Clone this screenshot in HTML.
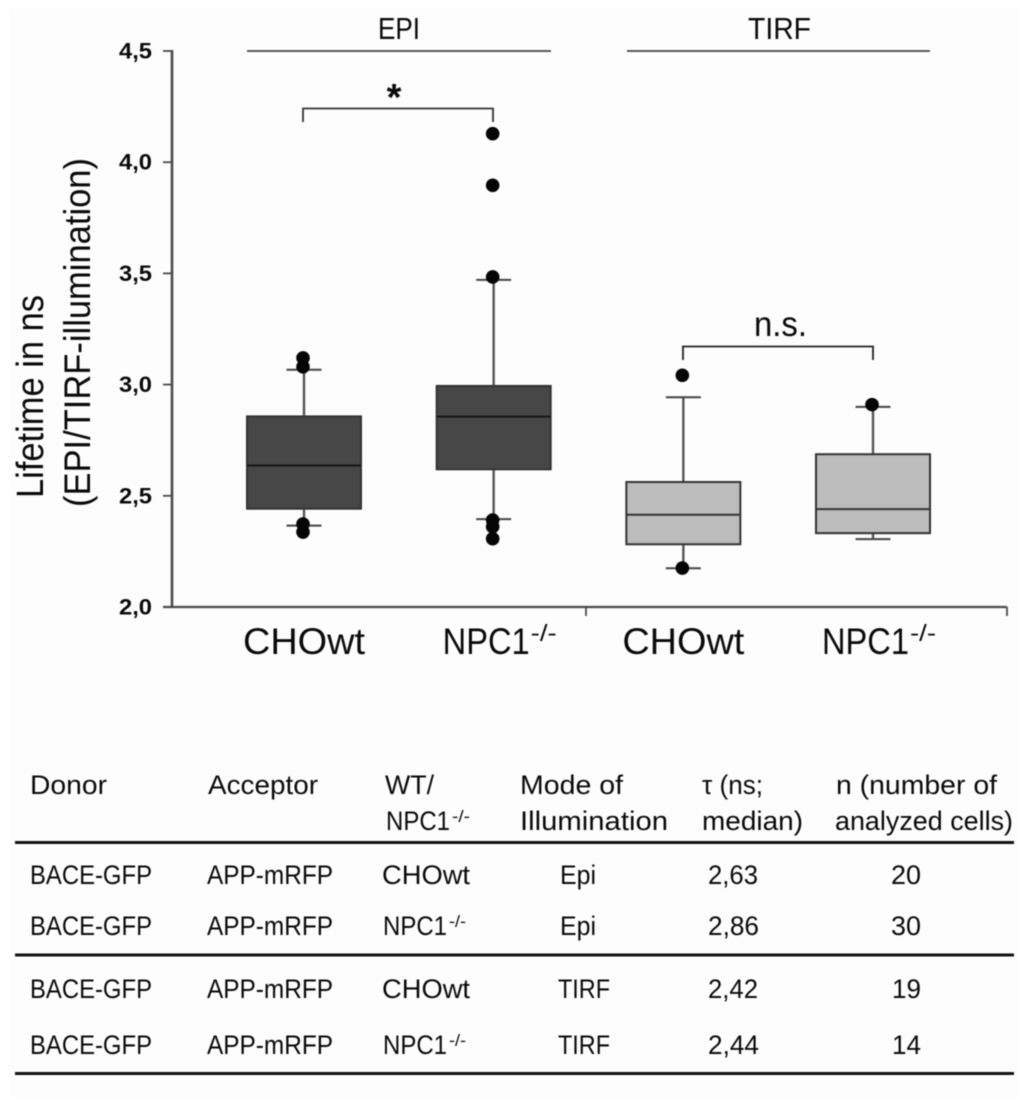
<!DOCTYPE html>
<html lang="en">
<head>
<meta charset="utf-8">
<title>Lifetime in ns chart and table</title>
<style>
html,body{margin:0;padding:0;background:#fff;width:1024px;height:1107px;overflow:hidden}
svg{display:block;filter:blur(0.4px)}
text{font-family:"Liberation Sans",sans-serif;fill:#0a0a0a}
.cell{font-size:27px}
</style>
</head>
<body>
<svg id="figure" xmlns="http://www.w3.org/2000/svg" width="1024" height="1107" viewBox="0 0 1024 1107">
  <rect x="0" y="0" width="1024" height="1107" fill="#ffffff"/>
  <rect x="10" y="8" width="1008" height="1090" fill="#fdfdfd"/>

  <g id="chart"></g>

  <g>
    <text transform="translate(43,498) rotate(-90)" font-size="38" textLength="203" lengthAdjust="spacingAndGlyphs">Lifetime in ns</text>
    <text transform="translate(90,507) rotate(-90)" font-size="37" textLength="349" lengthAdjust="spacingAndGlyphs">(EPI/TIRF-illumination)</text>
  </g>

  <g>
    <text x="378" y="39" font-size="31" textLength="42" lengthAdjust="spacingAndGlyphs">EPI</text>
    <line x1="247" y1="51" x2="551" y2="51" stroke="#444" stroke-width="1.8"/>
    <text x="748" y="39" font-size="31" textLength="63" lengthAdjust="spacingAndGlyphs">TIRF</text>
    <line x1="627" y1="51" x2="930" y2="51" stroke="#444" stroke-width="1.8"/>
  </g>

  <g>
    <path d="M303 122V108.500H493V122" fill="none" stroke="#333" stroke-width="1.8"/>
    <text x="394" y="110" font-size="38" font-weight="bold" text-anchor="middle">*</text>
  </g>
  <g>
    <path d="M683 360V346.500H873V360" fill="none" stroke="#222" stroke-width="1.8"/>
    <text x="754" y="336" font-size="35" textLength="53" lengthAdjust="spacingAndGlyphs">n.s.</text>
  </g>

  <g>
    <g>
      <text class="cell" x="30" y="794" textLength="77" lengthAdjust="spacingAndGlyphs">Donor</text>
      <text class="cell" x="208" y="794" textLength="110" lengthAdjust="spacingAndGlyphs">Acceptor</text>
      <text class="cell" x="385" y="794" textLength="49" lengthAdjust="spacingAndGlyphs">WT/</text>
      <text class="cell" x="386" y="830" textLength="64" lengthAdjust="spacingAndGlyphs">NPC1</text>
      <text x="452" y="822" font-size="17" textLength="18" lengthAdjust="spacingAndGlyphs">-/-</text>
      <text class="cell" x="520" y="794" textLength="103" lengthAdjust="spacingAndGlyphs">Mode of</text>
      <text class="cell" x="520" y="830" textLength="148" lengthAdjust="spacingAndGlyphs">Illumination</text>
      <text class="cell" x="702" y="794" textLength="61" lengthAdjust="spacingAndGlyphs">τ (ns;</text>
      <text class="cell" x="702" y="830" textLength="101" lengthAdjust="spacingAndGlyphs">median)</text>
      <text class="cell" x="836" y="794" textLength="161" lengthAdjust="spacingAndGlyphs">n (number of</text>
      <text class="cell" x="835" y="830" textLength="178" lengthAdjust="spacingAndGlyphs">analyzed cells)</text>
    </g>
    <line x1="15" y1="842.500" x2="1014" y2="842.500" stroke="#111" stroke-width="3"/>

    <g>
      <text class="cell" x="30" y="884" textLength="122" lengthAdjust="spacingAndGlyphs">BACE-GFP</text>
      <text class="cell" x="207" y="884" textLength="126" lengthAdjust="spacingAndGlyphs">APP-mRFP</text>
      <text class="cell" x="382" y="884" textLength="88" lengthAdjust="spacingAndGlyphs">CHOwt</text>
      <text class="cell" x="560" y="884" textLength="36" lengthAdjust="spacingAndGlyphs">Epi</text>
      <text class="cell" x="708" y="884" textLength="50" lengthAdjust="spacingAndGlyphs">2,63</text>
      <text class="cell" x="891" y="884" textLength="30" lengthAdjust="spacingAndGlyphs">20</text>
    </g>
    <g>
      <text class="cell" x="30" y="935" textLength="122" lengthAdjust="spacingAndGlyphs">BACE-GFP</text>
      <text class="cell" x="207" y="935" textLength="126" lengthAdjust="spacingAndGlyphs">APP-mRFP</text>
      <text class="cell" x="383" y="935" textLength="64" lengthAdjust="spacingAndGlyphs">NPC1</text>
      <text x="449" y="927" font-size="17" textLength="17" lengthAdjust="spacingAndGlyphs">-/-</text>
      <text class="cell" x="560" y="935" textLength="36" lengthAdjust="spacingAndGlyphs">Epi</text>
      <text class="cell" x="708" y="935" textLength="51" lengthAdjust="spacingAndGlyphs">2,86</text>
      <text class="cell" x="891" y="935" textLength="30" lengthAdjust="spacingAndGlyphs">30</text>
    </g>
    <line x1="15" y1="955" x2="1014" y2="955" stroke="#111" stroke-width="3"/>

    <g>
      <text class="cell" x="30" y="998" textLength="122" lengthAdjust="spacingAndGlyphs">BACE-GFP</text>
      <text class="cell" x="207" y="998" textLength="126" lengthAdjust="spacingAndGlyphs">APP-mRFP</text>
      <text class="cell" x="382" y="998" textLength="88" lengthAdjust="spacingAndGlyphs">CHOwt</text>
      <text class="cell" x="558" y="998" textLength="52" lengthAdjust="spacingAndGlyphs">TIRF</text>
      <text class="cell" x="708" y="998" textLength="50" lengthAdjust="spacingAndGlyphs">2,42</text>
      <text class="cell" x="892" y="998" textLength="29" lengthAdjust="spacingAndGlyphs">19</text>
    </g>
    <g>
      <text class="cell" x="30" y="1054" textLength="122" lengthAdjust="spacingAndGlyphs">BACE-GFP</text>
      <text class="cell" x="207" y="1054" textLength="126" lengthAdjust="spacingAndGlyphs">APP-mRFP</text>
      <text class="cell" x="383" y="1054" textLength="64" lengthAdjust="spacingAndGlyphs">NPC1</text>
      <text x="449" y="1046" font-size="17" textLength="17" lengthAdjust="spacingAndGlyphs">-/-</text>
      <text class="cell" x="558" y="1054" textLength="52" lengthAdjust="spacingAndGlyphs">TIRF</text>
      <text class="cell" x="708" y="1054" textLength="51" lengthAdjust="spacingAndGlyphs">2,44</text>
      <text class="cell" x="892" y="1054" textLength="29" lengthAdjust="spacingAndGlyphs">14</text>
    </g>
    <line x1="15" y1="1073.500" x2="1014" y2="1073.500" stroke="#111" stroke-width="3"/>
  </g>
</svg>

<script>
const categories = ['CHOwt', 'NPC1', 'CHOwt', 'NPC1'];
const categorySuperscripts = ['', '-/-', '', '-/-'];
const illumination = ['EPI', 'EPI', 'TIRF', 'TIRF'];
const q1Values = [2.442, 2.619, 2.282, 2.332];
const medianValues = [2.636, 2.856, 2.415, 2.44];
const q3Values = [2.857, 2.994, 2.562, 2.687];
const whiskerLowValues = [2.366, 2.395, 2.174, 2.305];
const whiskerHighValues = [3.067, 3.471, 2.943, 2.9];
const outlierValues = [
  [3.12, 3.08, 2.373, 2.337],
  [4.128, 3.896, 3.484, 2.391, 2.361, 2.307],
  [3.042, 2.175],
  [2.91]
];
const yTickValues = [2, 2.5, 3, 3.5, 4, 4.5];
const yTickLabels = ['2,0', '2,5', '3,0', '3,5', '4,0', '4,5'];

const NS = 'http://www.w3.org/2000/svg';
const chart = document.getElementById('chart');

function yScale(v) { return 607 - (v - 2) * (556 / 2.5); }
function xScale(i) { return 304 + i * 189.67; }

function make(tag, attrs, parent) {
  const el = document.createElementNS(NS, tag);
  for (const k in attrs) el.setAttribute(k, attrs[k]);
  parent.appendChild(el);
  return el;
}

const axisColor = '#4a4a4a';

/* y axis */
const yAxis = make('line', { x1: 172, x2: 172, y1: yScale(4.5) - 1, y2: yScale(2) + 1, stroke: axisColor, 'stroke-width': 2.6 }, chart);



yTickValues.forEach(function (v, i) {
  const tick = make('line', { x1: 163, x2: 172, y1: yScale(v), y2: yScale(v), stroke: axisColor, 'stroke-width': 1.8 }, chart);
  
  
  const label = make('text', { x: 152, y: yScale(v) + 7.5, 'text-anchor': 'end', 'font-size': 22, 'font-weight': 'bold', textLength: 33, lengthAdjust: 'spacingAndGlyphs' }, chart);
  
  
  label.textContent = yTickLabels[i];
});

/* x axis */
const xAxis = make('line', { x1: 163, x2: 1007, y1: yScale(2), y2: yScale(2), stroke: axisColor, 'stroke-width': 2.2 }, chart);



const dividerTick = make('line', { x1: 586, x2: 586, y1: yScale(2), y2: yScale(2) + 9, stroke: axisColor, 'stroke-width': 1.8 }, chart);



const endTick = make('line', { x1: 1007, x2: 1007, y1: yScale(2), y2: yScale(2) + 9, stroke: axisColor, 'stroke-width': 1.8 }, chart);



/* boxes */
categories.forEach(function (name, i) {
  const cx = xScale(i);
  const dark = illumination[i] === 'EPI';
  const halfBox = 57;
  const halfCap = 17.5;
  const g = make('g', {}, chart);
  
  

  const whisker = make('line', { x1: cx, x2: cx, y1: yScale(whiskerHighValues[i]), y2: yScale(whiskerLowValues[i]), stroke: '#555', 'stroke-width': 2.4 }, g);
  
  

  const capHigh = make('line', { x1: cx - halfCap, x2: cx + halfCap, y1: yScale(whiskerHighValues[i]), y2: yScale(whiskerHighValues[i]), stroke: '#444', 'stroke-width': 2 }, g);
  
  

  const capLow = make('line', { x1: cx - halfCap, x2: cx + halfCap, y1: yScale(whiskerLowValues[i]), y2: yScale(whiskerLowValues[i]), stroke: '#444', 'stroke-width': 2 }, g);
  
  

  const box = make('rect', {
    x: cx - halfBox, width: halfBox * 2,
    y: yScale(q3Values[i]), height: yScale(q1Values[i]) - yScale(q3Values[i]),
    fill: dark ? '#474747' : '#bcbcbd', stroke: '#333', 'stroke-width': 2
  }, g);
  
  

  const median = make('line', { x1: cx - halfBox, x2: cx + halfBox, y1: yScale(medianValues[i]), y2: yScale(medianValues[i]), stroke: dark ? '#161616' : '#333', 'stroke-width': 2 }, g);
  
  

  outlierValues[i].forEach(function (v) {
    const dot = make('circle', { cx: cx - 1, cy: yScale(v), r: 6.8, fill: '#050505' }, g);
    
    
  });

  const hasSup = categorySuperscripts[i] !== '';
  const labelWidth = hasSup ? 87 : 122;
  const labelX = hasSup ? cx - 51 : cx - 61;
  const label = make('text', { x: labelX, y: 654, 'font-size': 37, textLength: labelWidth, lengthAdjust: 'spacingAndGlyphs' }, g);
  
  
  label.textContent = name;

  if (hasSup) {
    const sup = make('text', { x: labelX + labelWidth + 1, y: 641, 'font-size': 23, textLength: 26, lengthAdjust: 'spacingAndGlyphs' }, g);
    
    
    sup.textContent = categorySuperscripts[i];
  }
});
</script>
</body>
</html>
